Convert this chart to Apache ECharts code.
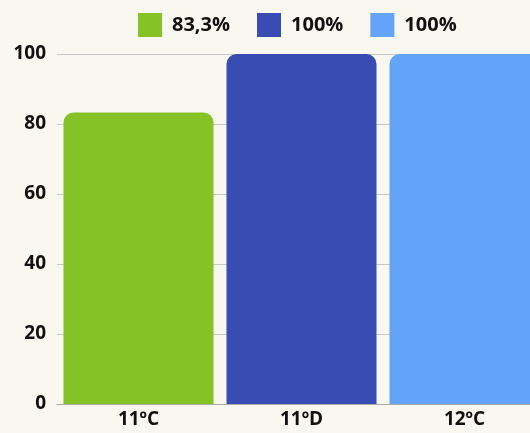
<!DOCTYPE html>
<html>
<head>
<meta charset="utf-8">
<script src="https://cdn.jsdelivr.net/npm/echarts@6/dist/echarts.min.js"></script>
<style>
  html, body { margin: 0; padding: 0; background: #f8f7f0; }
  #chart { width: 530px; height: 433px; }
</style>
</head>
<body>
<div id="chart"></div>
<script>
const categories = ["11ºC", "11ºD", "12ºC"];
const seriesNames = ["83,3%", "100%", "100%"];
const seriesValues = [83.3, 100, 100];
const seriesColors = ["#84c226", "#394cb4", "#63a4f8"];
const yTicks = [0, 20, 40, 60, 80, 100];

const chart = echarts.init(document.getElementById("chart"), null, { renderer: "canvas" });

// one series per bar so the legend shows each colour
const series = seriesValues.map((v, i) => ({
  name: seriesNames[i] + "\u200b".repeat(i), // keep legend entries distinct
  type: "bar",
  stack: "all",
  barWidth: 150,
  data: categories.map((c, j) => (j === i ? v : "-")),
  itemStyle: { color: seriesColors[i], borderRadius: [10, 10, 0, 0] },
}));

const option = {
  backgroundColor: "#f8f7f0",
  textStyle: { fontFamily: "Open Sans" },
  legend: {
    top: 13,
    left: 138,
    padding: 0,
    itemWidth: 24,
    itemHeight: 24,
    itemGap: 27,
    icon: "rect",
    textStyle: {
      color: "#111", fontSize: 20, fontWeight: "bold", fontFamily: "Open Sans",
      padding: [0, 0, 0, 5],
    },
    formatter: (name) => name.replace(/\u200b/g, ""),
  },
  // plot runs past the right edge, the third bar is cut off
  grid: {
    left: 57, width: 489, top: 54, bottom: 29,
    containLabel: false, outerBoundsMode: "none",
  },
  xAxis: {
    type: "category",
    data: categories,
    axisTick: { show: false },
    axisLine: { lineStyle: { color: "#aaaaaa", width: 1 } },
    axisLabel: { color: "#111", fontSize: 19, fontWeight: "bold", margin: 6, fontFamily: "Open Sans" },
  },
  yAxis: {
    type: "value",
    min: yTicks[0],
    max: yTicks[yTicks.length - 1],
    interval: 20,
    axisLine: { show: false },
    axisTick: { show: false },
    splitLine: { lineStyle: { color: "#c8c8c8" } },
    axisLabel: { color: "#111", fontSize: 19, fontWeight: "bold", margin: 11, fontFamily: "Open Sans" },
  },
  series: series,
};

chart.setOption(option);
</script>
</body>
</html>
